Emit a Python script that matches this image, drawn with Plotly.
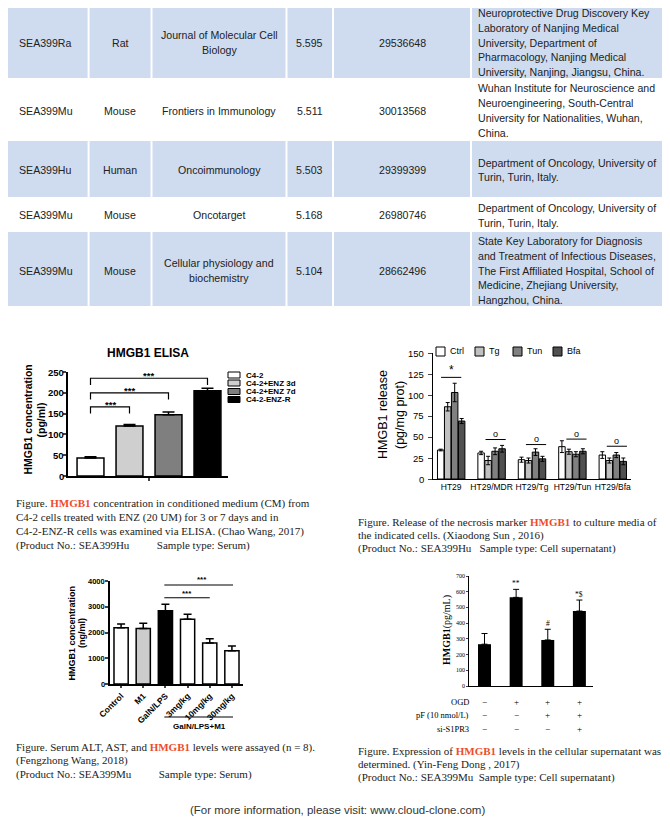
import plotly.graph_objects as go

# page is 670x822; the browser's default 8px body margin offsets the figure
PW, PH = 670, 822
OFF = 8
W, H = PW - OFF, PH - OFF
SANS = "Liberation Sans, Arial, sans-serif"
SERIF = "Liberation Serif, Times New Roman, serif"
RED = "#ef4b2b"
BLUE = "#cfdcef"
INK = "#222222"

# ---------------- table data ----------------
tbl_code = ["SEA399Ra", "SEA399Mu", "SEA399Hu", "SEA399Mu", "SEA399Mu"]
tbl_species = ["Rat", "Mouse", "Human", "Mouse", "Mouse"]
tbl_journal = [["Journal of Molecular Cell", "Biology"], ["Frontiers in Immunology"],
               ["Oncoimmunology"], ["Oncotarget"], ["Cellular physiology and", "biochemistry"]]
tbl_if = ["5.595", "5.511", "5.503", "5.168", "5.104"]
tbl_pmid = ["29536648", "30013568", "29399399", "26980746", "28662496"]
tbl_affil = [
    ["Neuroprotective Drug Discovery Key", "Laboratory of Nanjing Medical", "University, Department of",
     "Pharmacology, Nanjing Medical", "University, Nanjing, Jiangsu, China."],
    ["Wuhan Institute for Neuroscience and", "Neuroengineering, South-Central",
     "University for Nationalities, Wuhan,", "China."],
    ["Department of Oncology, University of", "Turin, Turin, Italy."],
    ["Department of Oncology, University of", "Turin, Turin, Italy."],
    ["State Key Laboratory for Diagnosis", "and Treatment of Infectious Diseases,",
     "The First Affiliated Hospital, School of", "Medicine, Zhejiang University,", "Hangzhou, China."],
]

# ---------------- chart 1: HMGB1 ELISA ----------------
c1_groups = ["C4-2", "C4-2+ENZ 3d", "C4-2+ENZ 7d", "C4-2-ENZ-R"]
c1_values = [43, 120, 147, 205]
c1_errors = [3, 4, 7, 6]
c1_ticks = [0, 50, 100, 150, 200, 250]
c1_sig_pairs = [[0, 1], [0, 2], [0, 3]]
c1_sig_y = [166, 200, 235]
c1_sig_text = ["***", "***", "***"]

# ---------------- chart 2: HMGB1 release ----------------
c2_cells = ["HT29", "HT29/MDR", "HT29/Tg", "HT29/Tun", "HT29/Bfa"]
c2_treat = ["Ctrl", "Tg", "Tun", "Bfa"]
c2_ctrl = [34.5, 31, 23, 38.5, 28.5]
c2_tg = [86, 22, 22, 32.5, 22]
c2_tun = [103, 33, 32, 29.5, 28.5]
c2_bfa = [69, 36, 24, 33, 21]
c2_ctrl_err = [1, 2, 3, 7, 4]
c2_tg_err = [5, 5, 3, 3, 3]
c2_tun_err = [11, 4, 4, 3, 3]
c2_bfa_err = [3, 4, 3, 3, 4]
c2_ticks = [0, 25, 50, 75, 100, 125, 150]
c2_sig_text = ["*", "o", "o", "o", "o"]
c2_sig_line = [121, 47, 41, 47.5, 39]

# ---------------- chart 3: serum HMGB1 ----------------
c3_groups = ["Control", "M1", "GalN/LPS", "3mg/kg", "10mg/kg", "30mg/kg"]
c3_values = [2180, 2160, 2840, 2510, 1590, 1290]
c3_errors = [150, 200, 260, 200, 165, 190]
c3_ticks = [0, 1000, 2000, 3000, 4000]
c3_sig_pairs = [[2, 4], [2, 5]]
c3_sig_y = [3350, 3845]
c3_sig_text = ["***", "***"]
c3_group_label = "GalN/LPS+M1"

# ---------------- chart 4: supernatant HMGB1 ----------------
c4_values = [266, 564, 293, 477]
c4_errors = [68, 51, 68, 70]
c4_ticks = [0, 100, 200, 300, 400, 500, 600, 700]
c4_marks = ["", "**", "#", "*$"]
c4_rows = ["OGD", "pF (10 nmol/L)", "si-S1PR3"]
c4_signs = [["\u2212", "+", "+", "+"], ["\u2212", "\u2212", "+", "+"], ["\u2212", "\u2212", "\u2212", "+"]]

# ---------------- captions ----------------
HM = "<span style='color:%s'><b>HMGB1</b></span>" % RED
NB = "\u00a0"
cap1 = ["Figure. " + HM + " concentration in conditioned medium (CM) from",
        "C4-2 cells treated with ENZ (20 UM) for 3 or 7 days and in",
        "C4-2-ENZ-R cells was examined via ELISA. (Chao Wang, 2017)",
        "(Product No.: SEA399Hu" + NB * 10 + "Sample type: Serum)"]
cap2 = ["Figure. Release of the necrosis marker " + HM + " to culture media of",
        "the indicated cells. (Xiaodong Sun , 2016)",
        "(Product No.: SEA399Hu" + NB * 3 + "Sample type: Cell supernatant)"]
cap3 = ["Figure. Serum ALT, AST, and " + HM + " levels were assayed (n = 8).",
        "(Fengzhong Wang, 2018)",
        "(Product No.: SEA399Mu" + NB * 10 + "Sample type: Serum)"]
cap4 = ["Figure. Expression of " + HM + " levels in the cellular supernatant was",
        "determined. (Yin-Feng Dong , 2017)",
        "(Product No.: SEA399Mu" + NB * 2 + "Sample type: Cell supernatant)"]
footer = "(For more information, please visit: www.cloud-clone.com)"

# =====================================================================
fig = go.Figure()
ann, shp = [], []


def PXf(x):
    return (x - OFF) / W


def PYf(y):
    return 1 - (y - OFF) / H


def P(x, y):
    return PXf(x), PYf(y)


def text(x, y, s, size, family=SANS, color=INK, xanchor="center", angle=0,
         weight="normal", yanchor="middle"):
    px, py = P(x, y)
    ann.append(dict(x=px, y=py, xref="paper", yref="paper", text=s, showarrow=False,
                    font=dict(family=family, size=size, color=color, weight=weight),
                    xanchor=xanchor, yanchor=yanchor, textangle=angle, borderpad=0))


def rect_px(x0, y0, x1, y1, fill, line_color=None, lw=0, layer="below"):
    a0, b0 = P(max(x0, OFF), max(y0, OFF))
    a1, b1 = P(x1, y1)
    shp.append(dict(type="rect", xref="paper", yref="paper", x0=a0, y0=b0, x1=a1, y1=b1,
                    fillcolor=fill, line=dict(color=line_color or fill, width=lw), layer=layer))


def dom(a, b):
    return [PXf(a), PXf(b)]


def vdom(bottom, top):
    return [PYf(bottom), PYf(top)]


X1, Y1, R1 = dom(68, 228), vdom(476, 372), [0, 250]
X2, Y2, R2 = dom(433, 631), vdom(479, 353), [0, 150]
X3, Y3, R3 = dom(110, 243), vdom(684, 581), [0, 4000]
X4, Y4, R4 = dom(469, 593), vdom(686, 576), [0, 700]


def ytick_labels(ticks, d, r, right_px, font):
    for v in ticks:
        yp = d[0] + (v - r[0]) / (r[1] - r[0]) * (d[1] - d[0])
        ann.append(dict(x=PXf(right_px), y=yp, xref="paper", yref="paper", text=str(v),
                        showarrow=False, font=dict(font), xanchor="right", yanchor="middle",
                        borderpad=0))


# ---------------- table ----------------
row_edges = [5, 78, 141, 197, 232, 306]
col_edges = [2.5, 88.6, 151.5, 286.5, 333, 471, 667.5]
row_centers = [42.5, 110.5, 170, 215.5, 270.5]
for r in range(5):
    y0, y1 = row_edges[r], row_edges[r + 1]
    if r % 2 == 0:
        for c in range(6):
            rect_px(col_edges[c] + 1, y0, col_edges[c + 1] - 1, y1, BLUE)
    yc = row_centers[r]
    cc = [(col_edges[c] + col_edges[c + 1]) / 2 for c in range(6)]
    TS = 10.6
    text(cc[0], yc, tbl_code[r], TS)
    text(cc[1], yc, tbl_species[r], TS)
    jl = tbl_journal[r]
    for i, line in enumerate(jl):
        text(cc[2], yc + (i - (len(jl) - 1) / 2) * 14.3, line, TS)
    text(cc[3], yc, tbl_if[r], TS)
    text(cc[4], yc, tbl_pmid[r], TS)
    al = tbl_affil[r]
    for i, line in enumerate(al):
        text(477, yc + (i - (len(al) - 1) / 2) * 14.7, line, TS, xanchor="left")

# ---------------- chart 1 ----------------
c1_colors = ["white", "#cfcfcf", "#7f7f7f", "black"]
fig.add_trace(go.Bar(
    x=list(range(len(c1_groups))), y=c1_values, width=0.69, name="c1",
    marker=dict(color=c1_colors, line=dict(color="black", width=1.5)),
    error_y=dict(type="data", array=c1_errors, arrayminus=[0] * len(c1_errors), symmetric=False,
                 color="black", thickness=1.5, width=6),
    xaxis="x", yaxis="y", showlegend=False))
for (a, b), yv, s in zip(c1_sig_pairs, c1_sig_y, c1_sig_text):
    shp.append(dict(type="path", xref="x", yref="y",
                    path="M %g,%g L %g,%g L %g,%g L %g,%g" % (a, yv - 16, a, yv, b, yv, b, yv - 16),
                    line=dict(color="black", width=1.2)))
    ann.append(dict(x=(a + b) / 2, y=yv + 6, xref="x", yref="y", text=s,
                    showarrow=False, font=dict(family=SANS, size=9.5, color="black", weight="bold"),
                    xanchor="center", yanchor="middle"))
ytick_labels(c1_ticks, Y1, R1, 65, dict(family=SANS, size=9.5, color="black", weight="bold"))
text(148, 352.5, "HMGB1 ELISA", 12, color="black", weight="bold")
text(27.5, 420, "HMGB1 concentration", 10.5, color="black", weight="bold", angle=-90)
text(40.5, 420, "(pg/ml)", 10.5, color="black", weight="bold", angle=-90)
for i, (g, col) in enumerate(zip(c1_groups, c1_colors)):
    yc = [375, 383, 391.5, 399.5][i]
    rect_px(228, yc - 3, 240, yc + 3, col, "black", 1, layer="above")
    text(245, yc, g, 8, color="black", weight="bold", xanchor="left")

# ---------------- chart 2 ----------------
c2_series = [c2_ctrl, c2_tg, c2_tun, c2_bfa]
c2_errs = [c2_ctrl_err, c2_tg_err, c2_tun_err, c2_bfa_err]
c2_colors = ["white", "#c0c0c0", "#808080", "#505050"]
for j in range(4):
    fig.add_trace(go.Bar(
        x=list(range(len(c2_cells))), y=c2_series[j], width=0.16, offset=(j - 1.5) * 0.173 - 0.08,
        name=c2_treat[j], marker=dict(color=c2_colors[j], line=dict(color="black", width=1)),
        error_y=dict(type="data", array=c2_errs[j], color="black", thickness=1, width=2),
        xaxis="x2", yaxis="y2", showlegend=False))
for i, (s, yl) in enumerate(zip(c2_sig_text, c2_sig_line)):
    xc = i + (0 if i == 0 else 0.1)
    shp.append(dict(type="line", xref="x2", yref="y2", x0=xc - 0.25, x1=xc + 0.25, y0=yl, y1=yl,
                    line=dict(color="black", width=1)))
    ann.append(dict(x=xc, y=yl + (9 if s == "*" else 6.5), xref="x2", yref="y2",
                    text=s, showarrow=False,
                    font=dict(family=SANS, size=12 if s == "*" else 9, color="black"),
                    xanchor="center", yanchor="middle"))
ytick_labels(c2_ticks, Y2, R2, 425, dict(family=SANS, size=9.5, color="black"))
for j, nm in enumerate(c2_treat):
    x0 = [436, 475, 513, 553][j]
    rect_px(x0, 347, x0 + 9, 356, c2_colors[j], "black", 1, layer="above")
    text(x0 + 12.5, 351, nm, 9, color="black", xanchor="left")
text(383, 415, "HMGB1 release", 12.5, color="black", angle=-90)
text(400, 415, "(pg/mg prot)", 12.5, color="black", angle=-90)

# ---------------- chart 3 ----------------
c3_colors = ["white", "#cccccc", "black", "white", "white", "white"]
c3_pattern = ["", "", "", "\\", "\\", "\\"]
fig.add_trace(go.Bar(
    x=list(range(len(c3_groups))), y=c3_values, width=0.64, name="c3",
    marker=dict(color=c3_colors, line=dict(color="black", width=1.5),
                pattern=dict(shape=c3_pattern, fgcolor="black", size=4, solidity=0.3)),
    error_y=dict(type="data", array=c3_errors, arrayminus=[0] * len(c3_errors), symmetric=False,
                 color="black", thickness=1.5, width=4),
    xaxis="x3", yaxis="y3", showlegend=False))
c3_sig_px = [(187, 593), (202, 579.5)]
for (a, b), yv, s, (tx, ty) in zip(c3_sig_pairs, c3_sig_y, c3_sig_text, c3_sig_px):
    shp.append(dict(type="line", xref="x3", yref="y3", x0=a - 0.05, x1=b + 0.05 * (b == 5),
                    y0=yv, y1=yv, line=dict(color="black", width=1.2)))
    text(tx, ty, s, 8, color="black", weight="bold")
shp.append(dict(type="line", xref="x3", yref="paper", x0=1.95, x1=5.05, y0=PYf(717), y1=PYf(717),
                line=dict(color="black", width=1.2)))
ann.append(dict(x=3.55, y=PYf(726), xref="x3", yref="paper", text=c3_group_label, showarrow=False,
                font=dict(family=SANS, size=8, color="black", weight="bold"),
                xanchor="center", yanchor="middle"))
ytick_labels(c3_ticks, Y3, R3, 105.5, dict(family=SANS, size=7.5, color="black", weight="bold"))
text(71.5, 633, "HMGB1 concentration", 9, color="black", weight="bold", angle=-90)
text(82, 633, "(ng/ml)", 9, color="black", weight="bold", angle=-90)

# ---------------- chart 4 ----------------
fig.add_trace(go.Bar(
    x=list(range(len(c4_values))), y=c4_values, width=0.41, name="c4",
    marker=dict(color="black", line=dict(color="black", width=0)),
    error_y=dict(type="data", array=c4_errors, arrayminus=[0] * len(c4_errors), symmetric=False,
                 color="black", thickness=1, width=3),
    xaxis="x4", yaxis="y4", showlegend=False))
for i, m in enumerate(c4_marks):
    if m:
        ann.append(dict(x=i, y=c4_values[i] + c4_errors[i] + 38, xref="x4",
                        yref="y4", text=m, showarrow=False,
                        font=dict(family=SERIF, size=7.5, color="black"),
                        xanchor="center", yanchor="middle"))
for r, lab in enumerate(c4_rows):
    yy = [702, 715, 728.5][r]
    text(470, yy, lab, 8.5, family=SERIF, color="black", xanchor="right")
    for i, sgn in enumerate(c4_signs[r]):
        ann.append(dict(x=i, y=PYf(yy), xref="x4", yref="paper", text=sgn, showarrow=False,
                        font=dict(family=SERIF, size=9, color="black"),
                        xanchor="center", yanchor="middle"))
ytick_labels(c4_ticks, Y4, R4, 465.5, dict(family=SERIF, size=6, color="black"))
text(447, 630, "<b>HMGB1</b>(pg/mL)", 10, family=SERIF, color="black", angle=-90)

# ---------------- captions ----------------
for i, line in enumerate(cap1):
    text(15, 503 + i * 14, line, 11, family=SERIF, xanchor="left")
for i, line in enumerate(cap2):
    text(357, 522 + i * 13.3, line, 11, family=SERIF, xanchor="left")
for i, line in enumerate(cap3):
    text(15, 747 + i * 13.5, line, 11, family=SERIF, xanchor="left")
for i, line in enumerate(cap4):
    text(357, 750.5 + i * 13.5, line, 11, family=SERIF, xanchor="left")
text(337, 810, footer, 11.5, color="#333333")

# ---------------- axes ----------------
base = dict(showgrid=False, zeroline=False, showline=True, linecolor="black", automargin=False,
            fixedrange=True)

fig.update_layout(
    width=W, height=H, template="none", autosize=False,
    margin=dict(l=0, r=0, t=0, b=0),
    paper_bgcolor="white", plot_bgcolor="rgba(0,0,0,0)",
    barmode="overlay", hovermode=False, showlegend=False,
    xaxis=dict(base, domain=X1, range=[-0.577, 3.526], anchor="y", linewidth=2,
               tickvals=[1.5], ticktext=[""], ticks="outside", ticklen=3, tickwidth=1.5),
    yaxis=dict(base, domain=Y1, range=R1, anchor="x", linewidth=2,
               tickvals=c1_ticks, ticks="outside", ticklen=3, tickwidth=2, showticklabels=False),
    xaxis2=dict(base, domain=X2, range=[-0.45, 4.45], anchor="y2", linewidth=1,
                tickvals=list(range(len(c2_cells))), ticktext=c2_cells, ticks="",
                tickfont=dict(family=SANS, size=8.5, color="black")),
    yaxis2=dict(base, domain=Y2, range=R2, anchor="x2", linewidth=1,
                tickvals=c2_ticks, ticks="outside", ticklen=4, tickwidth=1, showticklabels=False),
    xaxis3=dict(base, domain=X3, range=[-0.5, 5.5], anchor="y3", linewidth=1.5,
                tickvals=list(range(len(c3_groups))), ticktext=c3_groups, tickangle=-45,
                ticks="outside", ticklen=2, tickwidth=1.5,
                tickfont=dict(family=SANS, size=8.5, color="black", weight="bold")),
    yaxis3=dict(base, domain=Y3, range=R3, anchor="x3", linewidth=1.5,
                tickvals=c3_ticks, ticks="outside", ticklen=3, tickwidth=1.5, showticklabels=False),
    xaxis4=dict(base, domain=X4, range=[-0.49, 3.43], anchor="y4", linewidth=1,
                showticklabels=False, ticks=""),
    yaxis4=dict(base, domain=Y4, range=R4, anchor="x4", linewidth=1,
                tickvals=c4_ticks, ticks="outside", ticklen=2.5, tickwidth=1, showticklabels=False),
    annotations=ann, shapes=shp,
)

fig.write_html("out.html")
